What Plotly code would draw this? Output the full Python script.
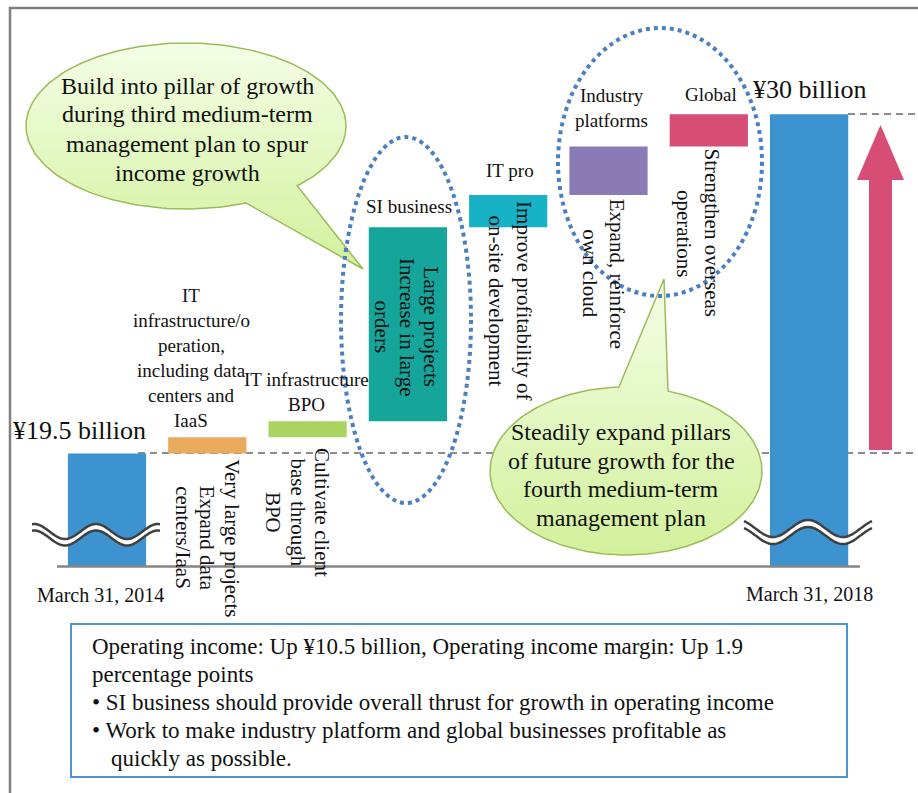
import numpy as np
import plotly.graph_objects as go

# operating income bridge, ¥ billion
categories = ["March 31, 2014", "IT infrastructure/operation", "IT infrastructure BPO",
              "SI business", "IT pro", "Industry platforms", "Global", "March 31, 2018"]
start_value = 19.5
end_value = 30.0
increments = [0.5, 0.5, 6.0, 1.0, 1.5, 1.0]

step_titles = ["IT<br>infrastructure/o<br>peration,<br>including data<br>centers and<br>IaaS",
               "IT infrastructure<br>BPO", "SI business", "IT pro",
               "Industry<br>platforms", "Global"]
step_notes = ["Very large projects<br>Expand data<br>centers/IaaS",
              "Cultivate client<br>base through<br>BPO",
              "Large projects<br>Increase in large<br>orders",
              "Improve profitability of<br>on-site development",
              "Expand, reinforce<br>own cloud",
              "Strengthen overseas<br>operations"]
bubble_left = "Build into pillar of growth<br>during third medium-term<br>management plan to spur<br>income growth"
bubble_right = "Steadily expand pillars<br>of future growth for the<br>fourth medium-term<br>management plan"
summary_lines = [
    "Operating income: Up ¥%g billion, Operating income margin: Up 1.9" % (end_value - start_value),
    "percentage points",
    "• SI business should provide overall thrust for growth in operating income",
    "• Work to make industry platform and global businesses profitable as",
    "quickly as possible.",
]

# ---- layout helpers (pixel based, margins are zero) ----
W, H = 918, 793
BREAK_BASE = 16.0          # value where the broken axis sits
PX_X0, PX_DX = 107, 100.3
PX_YB, PX_UNIT = 566.5, 32.3
FONT = "Liberation Serif"
colors = ["#3d92d0", "#e8aa5c", "#abd360", "#15a59a", "#17b2c6", "#8a7bb6", "#d64d76", "#3d92d0"]


def to_data(px, py):
    return (np.asarray(px) - PX_X0) / PX_DX, BREAK_BASE + (PX_YB - np.asarray(py)) / PX_UNIT


def pp(px, py):
    return px / W, 1 - py / H


def svg_path(pts, close=False):
    s = "M " + " L ".join("%.5f,%.5f" % pp(x, y) for x, y in pts)
    return s + (" Z" if close else "")


# waterfall bases / heights
xs = np.arange(len(categories))
bases, heights = [BREAK_BASE], [start_value - BREAK_BASE]
run = start_value
for inc in increments:
    bases.append(run)
    heights.append(inc)
    run += inc
bases.append(BREAK_BASE)
heights.append(end_value - BREAK_BASE)

fig = go.Figure()
fig.add_trace(go.Bar(x=xs, y=heights, base=bases, width=0.78,
                     marker=dict(color=colors, line=dict(width=0)), hoverinfo="skip"))


def bubble(cx, cy, rx, ry, t0, t1, apex):
    # ellipse outline the long way from t1 to t0, then out to the tail tip
    t = np.radians(np.linspace(t1, t0 + 360, 200))
    px = list(cx + rx * np.cos(t)) + [apex[0]]
    py = list(cy + ry * np.sin(t)) + [apex[1]]
    px.append(px[0])
    py.append(py[0])
    dx, dy = to_data(px, py)
    return go.Scatter(x=dx, y=dy, mode="lines", fill="toself",
                      line=dict(color="#9bbb59", width=1.5),
                      fillgradient=dict(type="vertical",
                                        colorscale=[[0, "#d2f19c"], [1, "#f4fde6"]]),
                      hoverinfo="skip")


fig.add_trace(bubble(186, 126, 160, 83, 46, 68, (363, 269)))
fig.add_trace(bubble(626, 471, 136, 84, 267, 288, (664, 279)))

shapes = []


def path_shape(pts, close=False, **kw):
    return dict(type="path", xref="paper", yref="paper", path=svg_path(pts, close), **kw)


# frame
shapes.append(path_shape([(10, 793), (10, 8), (918, 8)], line=dict(color="#7f7f7f", width=2.5)))
# dashed level lines
for y0, x0 in [(453, 138), (114, 848)]:
    shapes.append(dict(type="line", xref="paper", yref="paper", x0=x0 / W, x1=1,
                       y0=1 - y0 / H, y1=1 - y0 / H, layer="below",
                       line=dict(color="#8c8c8c", width=2, dash="7px,5px")))
# baseline
shapes.append(dict(type="line", xref="paper", yref="paper", x0=57 / W, x1=860 / W,
                   y0=1 - PX_YB / H, y1=1 - PX_YB / H, line=dict(color="#858585", width=2.5)))
# axis-break waves
for xa, xb, xpk, per, amp, yc, gap in [(32, 160, 96, 62, 7.5, 531.5, 6.5),
                                       (744, 872, 808, 70, 8.5, 528.5, 7)]:
    wx = np.linspace(xa, xb, 80)
    wy = yc - amp * np.cos(2 * np.pi * (wx - xpk) / per)
    up = list(zip(wx, wy))
    lo = list(zip(wx, wy + gap))
    shapes.append(path_shape(up + lo[::-1], close=True, fillcolor="white", line=dict(width=0)))
    for pts in (up, lo):
        shapes.append(path_shape(pts, line=dict(color="#404040", width=2.5)))
# growth arrow
arrow = [(869, 450), (869, 180), (857, 180), (880.5, 125), (904, 180), (892, 180), (892, 450)]
shapes.append(path_shape(arrow, close=True, fillcolor="#d64d76", line=dict(width=0)))
# dotted highlight ellipses
for cx, cy, rx, ry in [(406, 320, 65, 183), (660, 162, 102, 134)]:
    shapes.append(dict(type="circle", xref="paper", yref="paper",
                       x0=(cx - rx) / W, x1=(cx + rx) / W, y0=1 - (cy + ry) / H, y1=1 - (cy - ry) / H,
                       line=dict(color="#4a7fc1", width=4, dash="4px,4px")))
# summary box
shapes.append(dict(type="rect", xref="paper", yref="paper", x0=71 / W, x1=847 / W,
                   y0=1 - 777 / H, y1=1 - 624 / H, line=dict(color="#4f93d2", width=2)))

ann = []


def block(text, cx, cy, size, spacing=0, angle=0, xanchor="center", bar=None):
    """Place each line separately so the line pitch matches the original."""
    lines = text.split("<br>")
    n = len(lines)
    for k, line in enumerate(lines):
        off = (k - (n - 1) / 2) * spacing
        dx, dy = (-off, 0) if angle == 90 else (0, off)
        d = dict(text=line, showarrow=False, textangle=angle, yref="paper", y=1 - (cy + dy) / H,
                 yanchor="middle", xanchor=xanchor,
                 font=dict(family=FONT, size=size, color="#111111"))
        if bar is None:
            d.update(xref="paper", x=(cx + dx) / W)
        else:
            d.update(xref="x", x=bar, xshift=cx + dx)
        ann.append(d)


title_pos = [(-16, 358), (-1, 392), (1, 206), (2, 171), (3, 108), (2, 94)]
note_pos = [(0, 538), (-10, 512), (-1, 327), (2, 301), (-5, 274), (-11, 233)]
for i in range(len(increments)):
    block(step_titles[i], title_pos[i][0], title_pos[i][1], 19, 25, bar=i + 1)
    n_lines = step_notes[i].count("<br>") + 1
    block(step_notes[i], note_pos[i][0], note_pos[i][1], 21, 24.5 if n_lines == 3 else 27.5,
          angle=90, bar=i + 1)

block(categories[0], -7, 595, 20, bar=0)
block(categories[-1], 0, 594, 20, bar=len(categories) - 1)
block("¥%g billion" % start_value, -28, 430, 26, bar=0)
block("¥%g billion" % end_value, 0, 89, 26, bar=len(categories) - 1)
block(bubble_left, 187, 129, 24, 29)
block(bubble_right, 621, 475, 24, 28.7)
for line, (x, y) in zip(summary_lines, [(90, 646), (90, 674), (90, 702), (90, 730), (109, 758)]):
    block(line, x, y, 23, xanchor="left")

x_lo, y_hi = to_data(0, 0)
x_hi, y_lo = to_data(W, H)
fig.update_layout(
    width=W, height=H,
    margin=dict(l=0, r=0, t=0, b=0),
    paper_bgcolor="white", plot_bgcolor="white",
    showlegend=False,
    xaxis=dict(range=[float(x_lo), float(x_hi)], visible=False, fixedrange=True),
    yaxis=dict(range=[float(y_lo), float(y_hi)], visible=False, fixedrange=True),
    shapes=shapes,
    annotations=ann,
)

fig.write_html("out.html", config={"displayModeBar": False},
               post_script="document.body.style.margin='0px';")
